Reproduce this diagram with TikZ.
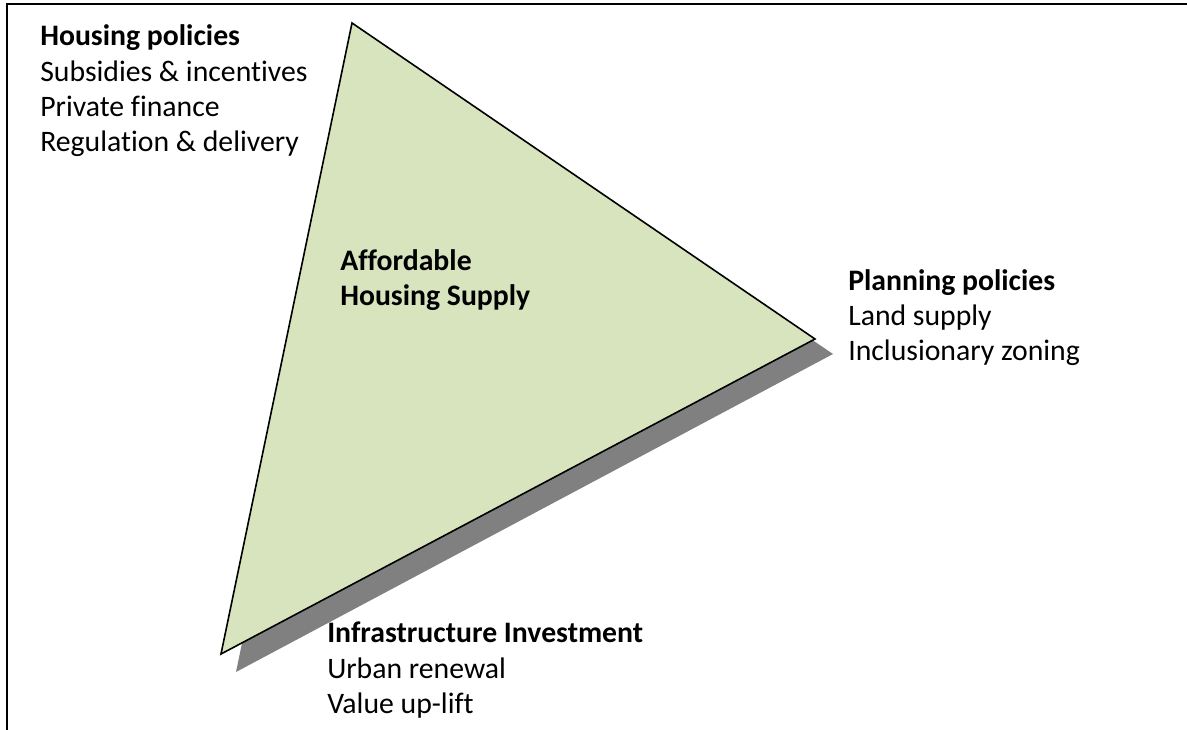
\documentclass[tikz,border=0pt]{standalone}
\usepackage{fontspec}
\setmainfont[Ligatures=NoCommon]{Carlito}
\usepackage{xcolor}
\usetikzlibrary{positioning}
\definecolor{leafgreen}{HTML}{D7E4BD}
\definecolor{shadowgray}{HTML}{808080}

\begin{document}
\begin{tikzpicture}[x=0.75pt, y=-0.75pt,
    policy/.style={align=left, anchor=base west, inner sep=0pt, font=\fontsize{22.3}{26.5}\selectfont},
    frame/.style={line width=1.5pt},
    tri/.style={draw, line width=1.2pt, fill=leafgreen, line join=miter},
    shade/.style={fill=shadowgray}
]
    \useasboundingbox (0,0) rectangle (1187,730);

    % Frame
    \draw[frame] (6.5,730) -- (6.5,4.5) -- (1187,4.5);

    % Triangle
    \coordinate (apex) at (352,23);
    \coordinate (east) at (815,339);
    \coordinate (west) at (221,654);
    \fill[shade] (368,39) -- (833,354) -- (236,672) -- cycle;
    \draw[tri] (apex) -- (east) -- (west) -- cycle;

    % Centre
    \node[policy, font=\fontsize{22.3}{26.5}\selectfont\bfseries] (supply) at (340,306) {Affordable\\Housing Supply};

    % Housing
    \node[policy] (housing) at (40,152) {\textbf{Housing policies}\\Subsidies \& incentives\\Private finance\\Regulation \& delivery};

    % Planning
    \node[policy] (planning) at (848,361) {\textbf{Planning policies}\\Land supply\\Inclusionary zoning};

    % Infrastructure
    \node[policy] (infra) at (327,713.5) {\textbf{Infrastructure Investment}\\Urban renewal\\Value up-lift};
\end{tikzpicture}
\end{document}
